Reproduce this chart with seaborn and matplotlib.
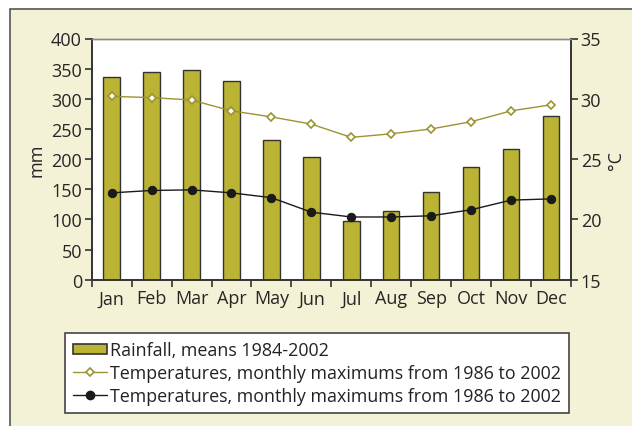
import pandas as pd
import seaborn as sns
import matplotlib.pyplot as plt
from matplotlib.patches import Rectangle
from matplotlib.lines import Line2D
from matplotlib.patches import Patch

# Monthly climate data
months = ['Jan', 'Feb', 'Mar', 'Apr', 'May', 'Jun',
          'Jul', 'Aug', 'Sep', 'Oct', 'Nov', 'Dec']
rainfall = [336, 344, 347, 329, 231, 204, 97, 114, 146, 187, 217, 271]
temp_max = [30.2, 30.1, 29.9, 29.0, 28.5, 27.9, 26.8, 27.1, 27.5, 28.1, 29.0, 29.5]
temp_low = [22.2, 22.4, 22.45, 22.2, 21.8, 20.6, 20.2, 20.2, 20.3, 20.8, 21.6, 21.7]

bar_color = '#bab334'
olive = '#9a9432'

df = pd.DataFrame({'month': months, 'rain': rainfall,
                   'tmax': temp_max, 'tlow': temp_low})

sns.set_style('white')
plt.rcParams['font.family'] = ['Open Sans', 'DejaVu Sans']
plt.rcParams['text.color'] = '#222222'

fig = plt.figure(figsize=(6.32, 4.27), dpi=100)
fig.patch.set_facecolor('white')
# cream outer panel
fig.patches.append(Rectangle((10 / 632, -0.1), 1.1, (417 / 427) + 0.1,
                             transform=fig.transFigure, facecolor='#f3f1d6',
                             edgecolor='#555555', linewidth=1.2, zorder=-10))

ax = fig.add_axes([91.7 / 632, 1 - 280.7 / 427, (571 - 91.7) / 632, (280.7 - 39.5) / 427])
ax.set_facecolor('white')

sns.barplot(data=df, x='month', y='rain', ax=ax, color=bar_color, width=0.41,
            edgecolor='#333333', linewidth=1.0, saturation=1)
ax.set_xlim(-0.5, 11.5)
ax.set_ylim(0, 400)
ax.set_yticks(range(0, 401, 50))
ax.set_ylabel('mm', fontsize=13, labelpad=4)
ax.set_xlabel('')

ax2 = ax.twinx()
sns.pointplot(data=df, x='month', y='tmax', ax=ax2, color=olive, markers='D',
              markersize=4.2, linewidth=1.0, markerfacecolor='white',
              markeredgecolor=olive, markeredgewidth=1.2)
sns.pointplot(data=df, x='month', y='tlow', ax=ax2, color='#1a1a1a', markers='o',
              markersize=6, linewidth=1.0)
ax2.set_xlim(-0.5, 11.5)
ax2.set_ylim(15, 35)
ax2.set_yticks(range(15, 36, 5))
ax2.set_ylabel('°C', fontsize=13, labelpad=4)
ax2.set_xlabel('')

for a in (ax, ax2):
    for side in ('left', 'right', 'bottom'):
        a.spines[side].set_color('#333333')
        a.spines[side].set_linewidth(1.2)
    a.spines['top'].set_color('#888888')
    a.spines['top'].set_linewidth(1.0)

ax.tick_params(axis='y', direction='out', length=5, width=1.2, color='#333333',
               labelsize=13, left=True, pad=2)
ax2.tick_params(axis='y', direction='out', length=5, width=1.2, color='#333333',
                labelsize=13, right=True, pad=2)
ax.set_xticks(range(12))
ax.set_xticklabels(months)
ax.tick_params(axis='x', which='major', length=0, labelsize=13, pad=7)
ax.set_xticks([i - 0.5 for i in range(13)], minor=True)
ax.tick_params(axis='x', which='minor', direction='out', length=5, width=1.2,
               color='#333333', bottom=True)

handles = [
    Patch(facecolor=bar_color, edgecolor='#333333', linewidth=1.2),
    Line2D([0], [0], color=olive, lw=1.0, marker='D', markersize=4.2,
           markerfacecolor='white', markeredgecolor=olive, markeredgewidth=1.2),
    Line2D([0], [0], color='#1a1a1a', lw=1.0, marker='o', markersize=6),
]
labels = ['Rainfall, means 1984-2002',
          'Temperatures, monthly maximums from 1986 to 2002',
          'Temperatures, monthly maximums from 1986 to 2002']
leg = fig.legend(handles, labels, loc='upper left',
                 bbox_to_anchor=(65 / 632, 1 - 334 / 427), fontsize=12.9,
                 frameon=True, fancybox=False, edgecolor='#444444',
                 framealpha=1, borderpad=0.45, labelspacing=0.27,
                 handlelength=1.9, handleheight=0.5, handletextpad=0.15,
                 borderaxespad=0)
leg.get_frame().set_linewidth(1.2)

fig.savefig('out.png', dpi=100)
